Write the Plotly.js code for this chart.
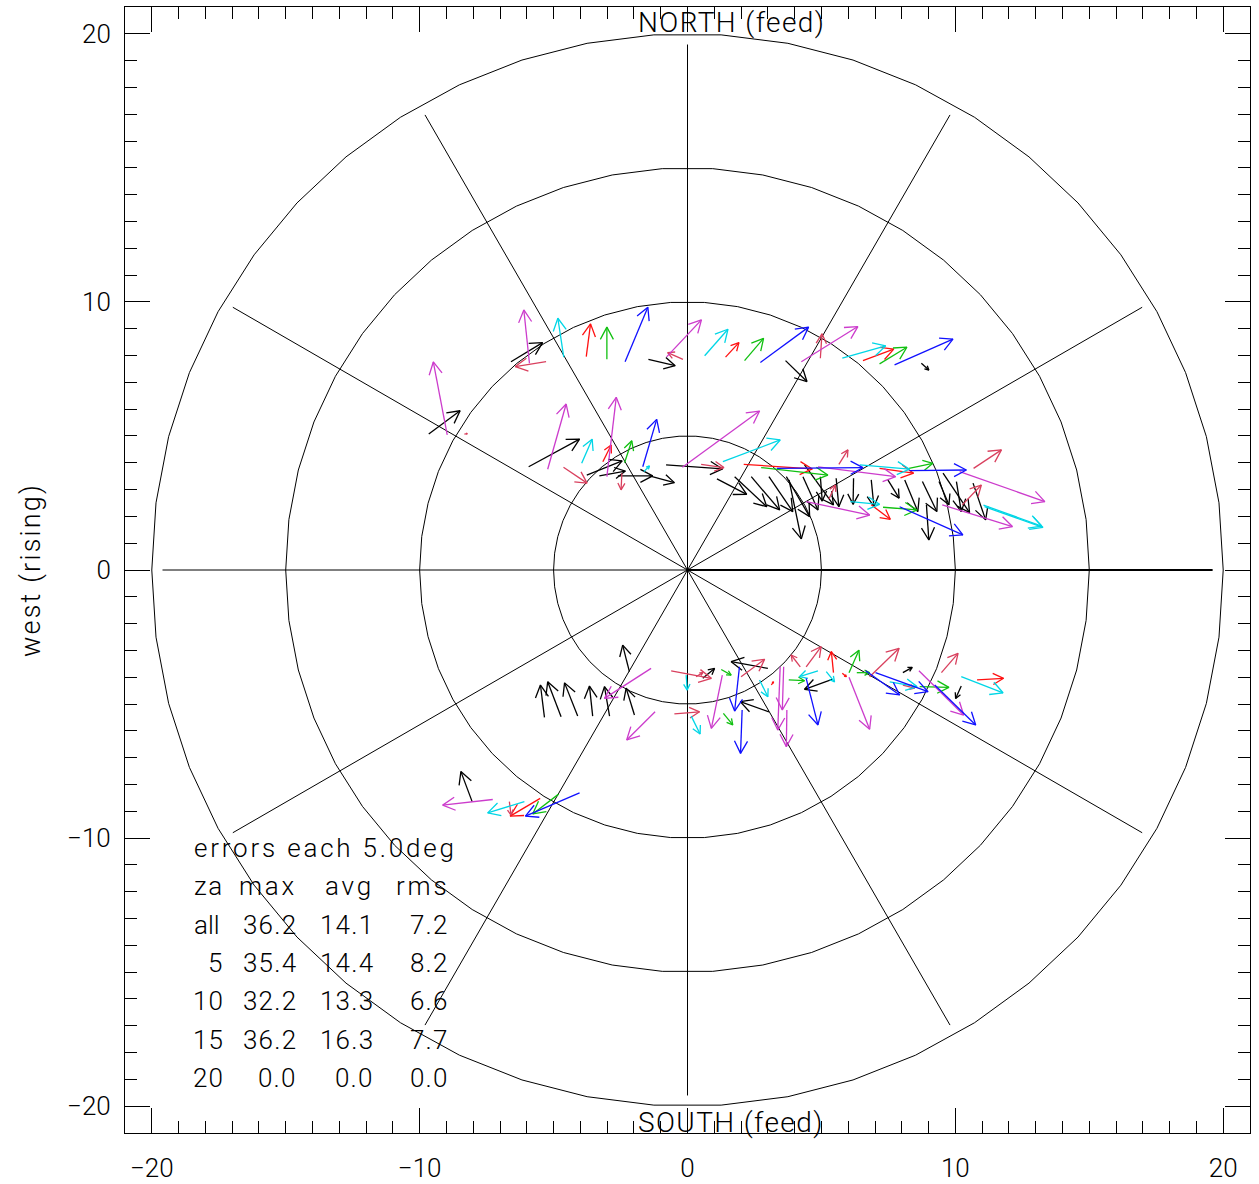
<!DOCTYPE html>
<html>
<head>
<meta charset="utf-8">
<script src="https://cdn.plot.ly/plotly-3.0.1.min.js"></script>
<style>html,body{margin:0;padding:0;background:#fff;}</style>
</head>
<body>
<div id="plot" style="width:1259px;height:1184px;"></div>
<script>
// ---------------- data ----------------
const ringRadii = [5, 10, 15, 20];
const spokeAngles = [0, 30, 60, 90, 120, 150, 180, 210, 240, 270, 300, 330];
const spokeLength = 19.6;
const axisTicks = [-20, -10, 0, 10, 20];

// error arrows: tail (x0,y0) -> head (x1,y1), grouped by colour
const blackX0 = [-6.59,-1.46,3.66,8.73,-9.66,-5.93,-3.76,-3.29,-2.60,-1.42,-0.80,1.10,1.76,2.38,3.04,3.69,3.79,4.31,4.37,4.96,5.55,6.20,6.86,7.48,8.11,8.77,8.92,9.39,9.54,10.04,10.66,-5.34,-4.72,-4.10,-3.54,-2.91,-1.98,-2.17,0.57,3.00,3.04,5.40,8.04,10.22,-8.04];
const blackY0 = [7.77,7.86,7.81,7.71,5.07,3.85,3.54,3.51,3.51,3.51,3.92,3.40,3.48,3.48,3.48,3.48,3.36,3.48,3.92,3.48,3.42,3.42,3.36,3.36,3.36,3.30,2.43,3.30,3.61,3.30,3.24,-5.50,-5.47,-5.45,-5.45,-5.45,-5.41,-3.79,-4.04,-3.67,-5.29,-4.08,-3.83,-4.33,-8.64];
const blackX1 = [-5.41,-0.46,4.46,9.01,-8.49,-4.03,-2.44,-2.32,-1.30,-0.49,1.31,2.21,2.96,3.44,3.93,4.56,4.25,4.87,5.45,5.03,5.65,6.18,6.96,7.90,8.60,9.31,9.01,9.76,10.53,10.22,11.13,-5.49,-5.22,-4.59,-3.66,-3.10,-2.29,-2.42,1.01,1.63,1.97,4.37,8.39,10.01,-8.46];
const blackY1 = [8.48,7.62,7.03,7.46,5.94,4.88,4.07,3.69,3.51,3.26,3.77,2.82,2.36,2.24,2.18,1.99,1.16,2.24,2.43,2.57,2.36,2.45,2.36,2.68,2.18,2.18,1.12,2.43,2.14,2.18,1.87,-4.29,-4.17,-4.21,-4.33,-4.35,-4.41,-2.80,-3.67,-3.42,-4.91,-4.45,-3.63,-4.79,-7.52];

const redX0 = [-3.78,1.42,6.55,-3.16,2.10,7.17,5.45,5.78,10.81,-5.50,6.86,3.13];
const redY0 = [7.96,7.94,7.81,4.04,3.94,3.79,-3.83,-3.85,-4.10,-8.52,2.43,-4.29];
const redX1 = [-3.62,1.92,7.70,-2.85,4.66,8.44,5.37,5.93,11.80,-6.62,7.57,3.21];
const redY1 = [9.18,8.48,8.24,4.66,3.77,3.61,-3.04,-3.98,-4.04,-9.18,1.89,-4.17];

const crimsonX0 = [-5.28,-0.17,4.96,-8.33,-4.63,-2.45,0.51,5.65,5.28,10.68,10.26,-0.61,0.32,-0.49,2.00,4.21,4.43,6.80,8.04,9.48,-6.65];
const crimsonY0 = [7.77,7.86,7.90,5.07,3.83,3.61,3.94,3.94,2.65,3.79,2.43,-3.76,-3.98,-5.37,-3.98,-3.61,-3.61,-3.98,-4.29,-3.83,-8.64];
const crimsonX1 = [-6.43,-0.74,5.02,-8.22,-3.75,-2.48,1.36,5.99,5.52,11.72,10.97,0.89,0.57,0.45,2.88,3.87,4.99,7.90,8.48,10.10,-6.59];
const crimsonY1 = [7.59,8.11,8.81,5.09,3.24,2.99,3.82,4.48,3.17,4.48,3.17,-4.04,-3.83,-5.29,-3.33,-3.17,-2.86,-2.92,-4.41,-3.11,-9.14];

const greenX0 = [-3.01,2.13,7.17,-2.35,2.75,8.27,7.30,1.26,1.34,3.78,6.03,6.32,8.67,-4.81];
const greenY0 = [7.86,7.81,7.69,4.00,3.82,3.79,2.34,-3.71,-5.35,-4.10,-3.83,-3.83,-4.35,-8.36];
const greenX1 = [-3.01,2.84,8.19,-2.08,5.24,9.16,8.57,1.63,1.69,4.37,6.40,6.80,9.76,-5.78];
const greenY1 = [9.06,8.64,8.31,4.82,3.54,3.98,2.24,-3.92,-5.78,-4.13,-2.99,-3.83,-4.38,-9.10];

const cyanX0 = [-4.62,0.64,5.78,-3.95,-1.63,1.32,6.43,6.08,11.09,11.05,-0.05,0.14,2.69,4.87,5.18,7.55,10.22,-6.09];
const cyanY0 = [7.94,7.99,7.90,3.98,3.67,4.04,3.92,2.55,2.36,2.42,-3.92,-5.45,-4.10,-3.76,-3.79,-4.17,-3.98,-8.64];
const cyanX1 = [-4.84,1.51,7.40,-3.56,-1.42,3.46,8.29,7.17,13.27,13.22,-0.01,0.47,3.00,4.18,5.49,8.57,11.78,-7.46];
const cyanY1 = [9.39,8.98,8.36,4.88,3.88,4.85,3.76,2.45,1.59,1.64,-4.48,-6.12,-4.73,-3.98,-4.17,-4.35,-4.58,-9.06];

const magentaX0 = [-8.97,-5.90,-0.78,4.25,-5.22,-3.01,-0.19,4.87,4.43,10.16,9.51,-1.36,-1.21,1.30,3.46,3.59,3.71,6.03,8.64,-7.27];
const magentaY0 = [5.04,7.71,7.95,7.77,3.76,3.48,3.83,3.85,2.55,3.67,2.43,-3.67,-5.29,-3.92,-3.61,-3.61,-5.22,-4.00,-3.76,-8.56];
const magentaX1 = [-9.49,-6.11,0.52,6.36,-4.53,-2.66,2.69,7.77,6.80,13.34,12.13,-3.10,-2.27,0.89,3.37,3.54,3.69,6.80,10.31,-9.14];
const magentaY1 = [7.76,9.70,9.33,9.08,6.19,6.44,5.93,3.48,2.05,2.55,1.62,-4.79,-6.34,-5.91,-5.97,-5.22,-6.59,-5.94,-5.41,-8.77];

const blueX0 = [-2.33,2.72,7.73,-1.67,3.34,8.29,7.92,1.94,2.04,4.43,6.65,7.02,9.23,-4.03];
const blueY0 = [7.77,7.74,7.65,3.85,3.79,3.71,2.36,-3.61,-5.22,-4.04,-3.76,-3.83,-4.29,-8.31];
const blueX1 = [-1.48,4.52,9.91,-1.15,6.55,10.41,10.28,1.76,1.98,4.87,7.92,8.98,10.76,-6.05];
const blueY1 = [9.80,9.06,8.61,5.62,3.82,3.73,1.31,-5.26,-6.84,-5.78,-4.66,-4.54,-5.78,-9.18];

const statsTitle = "errors each 5.0deg";
const statsHeader = ["za", "max", "avg", "rms"];
const statsZa  = ["all", "5", "10", "15", "20"];
const statsMax = ["36.2", "35.4", "32.2", "36.2", "0.0"];
const statsAvg = ["14.1", "14.4", "13.3", "16.3", "0.0"];
const statsRms = ["7.2", "8.2", "6.6", "7.7", "0.0"];

// ---------------- build ----------------
const FONT = "Roboto, 'DejaVu Sans', sans-serif";
const FW = 300;
const traces = [];

// rings and spokes
const gx = [], gy = [];
const NSEG = 50;
ringRadii.forEach(r => {
  for (let i = 0; i <= NSEG; i++) {
    const a = 2 * Math.PI * i / NSEG;
    gx.push(r * Math.cos(a)); gy.push(r * Math.sin(a));
  }
  gx.push(null); gy.push(null);
});
spokeAngles.forEach(d => {
  const a = d * Math.PI / 180;
  gx.push(0, spokeLength * Math.cos(a), null);
  gy.push(0, spokeLength * Math.sin(a), null);
});
traces.push({x: gx, y: gy, mode: 'lines', line: {color: '#000', width: 1}, hoverinfo: 'skip', showlegend: false});
traces.push({x: [0, spokeLength], y: [0, 0], mode: 'lines', line: {color: '#000', width: 2}, hoverinfo: 'skip', showlegend: false});

function arrowTrace(x0, y0, x1, y1, color, width) {
  const xs = [], ys = [];
  const half = 28 * Math.PI / 180;
  for (let i = 0; i < x0.length; i++) {
    const dx = x1[i] - x0[i], dy = y1[i] - y0[i];
    const len = Math.hypot(dx, dy);
    xs.push(x0[i], x1[i], null); ys.push(y0[i], y1[i], null);
    if (len < 1e-6) continue;
    const hl = Math.min(0.52, 0.45 * len);
    const ang = Math.atan2(dy, dx) + Math.PI;
    xs.push(x1[i] + hl * Math.cos(ang + half), x1[i], x1[i] + hl * Math.cos(ang - half), null);
    ys.push(y1[i] + hl * Math.sin(ang + half), y1[i], y1[i] + hl * Math.sin(ang - half), null);
  }
  return {x: xs, y: ys, mode: 'lines', line: {color: color, width: width || 1.3}, hoverinfo: 'skip', showlegend: false};
}
traces.push(arrowTrace(blackX0, blackY0, blackX1, blackY1, '#000000'));
traces.push(arrowTrace(redX0, redY0, redX1, redY1, '#ff1010'));
traces.push(arrowTrace(crimsonX0, crimsonY0, crimsonX1, crimsonY1, '#d9405e'));
traces.push(arrowTrace(greenX0, greenY0, greenX1, greenY1, '#10c010'));
traces.push(arrowTrace(cyanX0, cyanY0, cyanX1, cyanY1, '#00d6e6'));
traces.push(arrowTrace(magentaX0, magentaY0, magentaX1, magentaY1, '#cc3ccc'));
traces.push(arrowTrace(blueX0, blueY0, blueX1, blueY1, '#1010ff'));

// text
const annotations = [];
const txt = (t, x, y, xanchor, size, spacing) => ({
  text: '<span style="letter-spacing:' + (spacing || 0) + 'px">' + t.replace(/ /g, '\u00A0') + '</span>',
  x: x, y: y, xref: 'x', yref: 'y', xanchor: xanchor, yanchor: 'middle',
  showarrow: false, font: {family: FONT, weight: FW, size: size || 26, color: '#000'}
});
annotations.push(txt('NORTH (feed)', -1.94, 20.41, 'left', 28, 1.4));
annotations.push(txt('SOUTH (feed)', -1.94, -20.62, 'left', 28, 1.4));

const rowY0 = -10.37, rowStep = -1.43;
const colLeft = -18.49, colZaR = -17.22, colMaxR = -14.52, colAvgR = -11.64, colRmsR = -8.84;
const wordSp = 2.8, numSp = 1.2;
annotations.push(txt(statsTitle, colLeft, rowY0, 'left', 26, wordSp));
annotations.push(txt(statsHeader[0], colLeft, rowY0 + rowStep, 'left', 26, 1.5));
annotations.push(txt(statsHeader[1], colMaxR, rowY0 + rowStep, 'right', 26, wordSp));
annotations.push(txt(statsHeader[2], colAvgR, rowY0 + rowStep, 'right', 26, wordSp));
annotations.push(txt(statsHeader[3], colRmsR, rowY0 + rowStep, 'right', 26, wordSp));
statsZa.forEach((z, i) => {
  const y = rowY0 + rowStep * (i + 2);
  if (isNaN(Number(z))) annotations.push(txt(z, colLeft, y, 'left', 26, 0));
  else annotations.push(txt(z, colZaR, y, 'right', 26, numSp));
  annotations.push(txt(statsMax[i], colMaxR, y, 'right', 26, numSp));
  annotations.push(txt(statsAvg[i], colAvgR, y, 'right', 26, numSp));
  annotations.push(txt(statsRms[i], colRmsR, y, 'right', 26, numSp));
});

const axisCommon = {
  range: [-21, 21], showgrid: false, zeroline: false, showline: true, mirror: 'allticks',
  linecolor: '#000', linewidth: 1, ticks: 'inside', ticklen: 25, tickwidth: 1, tickcolor: '#000',
  tickvals: axisTicks, ticktext: axisTicks.map(v => v < 0 ? '\u2212' + Math.abs(v) : String(v)),
  tickfont: {family: FONT, weight: FW, size: 26, color: '#000'},
  minor: {ticks: 'inside', ticklen: 12, dtick: 1, tick0: 0, tickcolor: '#000', tickwidth: 1, showgrid: false},
  fixedrange: true
};

const layout = {
  width: 1259, height: 1184,
  margin: {l: 125, r: 9, t: 7, b: 51, pad: 0},
  paper_bgcolor: '#fff', plot_bgcolor: '#fff',
  showlegend: false,
  xaxis: Object.assign({}, axisCommon, {ticklabelstandoff: 12}),
  yaxis: Object.assign({}, axisCommon, {ticklabelstandoff: 8,
    title: {text: '<span style="letter-spacing:2.2px">west\u00A0(rising)</span>',
            font: {family: FONT, weight: FW, size: 27, color: '#000'}, standoff: 18}}),
  annotations: annotations
};

Plotly.newPlot('plot', traces, layout, {staticPlot: true, displayModeBar: false});
</script>
</body>
</html>
